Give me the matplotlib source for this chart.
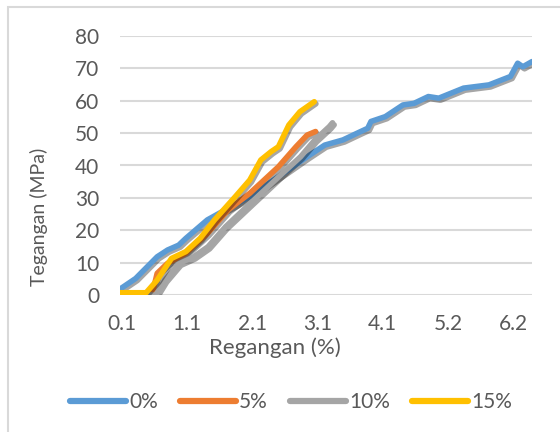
import matplotlib.pyplot as plt
import matplotlib.patheffects as pe
from matplotlib.patches import Rectangle

# data (strain %, stress MPa)
x_0 = [0.09, 0.31, 0.64, 0.80, 0.97, 1.08, 1.41, 1.75, 2.06, 2.39, 2.94, 3.21, 3.49,
       3.71, 3.87, 3.92, 4.14, 4.41, 4.58, 4.80, 4.96, 5.34, 5.73, 6.06, 6.17, 6.25, 6.39]
y_0 = [2.1, 5.1, 11.8, 13.9, 15.4, 17.5, 23.2, 27.0, 30.4, 35.0, 42.7, 46.3, 47.9,
       50.0, 51.5, 53.6, 55.1, 58.7, 59.2, 61.3, 60.8, 63.9, 64.9, 67.5, 71.6, 70.5, 72.1]

x_5 = [0.07, 0.56, 0.64, 0.80, 1.08, 1.41, 1.73, 2.06, 2.50, 2.77, 2.94, 3.07]
y_5 = [0.0, 0.0, 6.7, 9.8, 12.9, 19.0, 26.3, 31.4, 39.6, 45.8, 49.4, 50.5]

x_10 = [0.07, 0.62, 0.76, 0.98, 1.20, 1.42, 1.69, 2.07, 2.51, 2.84, 3.06, 3.28, 3.33]
y_10 = [0.0, 0.0, 4.6, 9.8, 11.8, 14.9, 21.1, 28.3, 36.6, 42.7, 47.9, 52.0, 53.2]

x_15 = [0.07, 0.47, 0.64, 0.86, 1.08, 1.30, 1.52, 1.84, 2.06, 2.23, 2.39, 2.50,
        2.66, 2.83, 3.05]
y_15 = [0.7, 0.7, 4.6, 11.3, 13.4, 17.5, 23.2, 30.4, 35.5, 41.7, 44.3, 45.8,
        52.5, 56.6, 59.7]

labels = ["0%", "5%", "10%", "15%"]
colors = ["#5B9BD5", "#ED7D31", "#A5A5A5", "#FFC000"]

xticks = [0.1, 1.1, 2.1, 3.1, 4.1, 5.1, 6.1]
xtick_labels = ["0.1", "1.1", "2.1", "3.1", "4.1", "5.2", "6.2"]

plt.rcParams["font.family"] = ["Lato", "DejaVu Sans"]

fig = plt.figure(figsize=(5.6, 4.32), dpi=100)
ax = fig.add_axes([120 / 560, 1 - 295 / 432, 412 / 560, 259 / 432])

shadow = [pe.SimpleLineShadow(offset=(1.2, -1.5), shadow_color="black", alpha=0.35),
          pe.Normal()]
series = [(x_0, y_0), (x_5, y_5), (x_10, y_10), (x_15, y_15)]
for (xs, ys), lab, c in zip(series, labels, colors):
    ax.plot(xs, ys, color=c, lw=4, label=lab, solid_capstyle="round",
            solid_joinstyle="round", path_effects=shadow)

ax.set_xlim(0.07, 6.39)
ax.set_ylim(0, 80)
ax.set_yticks(range(0, 81, 10))
ax.set_xticks(xticks)
ax.set_xticklabels(xtick_labels)
ax.grid(axis="y", color="#D9D9D9", lw=1.5)
ax.set_axisbelow(True)
for s in ax.spines.values():
    s.set_visible(False)
ax.tick_params(length=0, labelsize=15, labelcolor="#595959")
ax.tick_params(axis="y", pad=15)
ax.tick_params(axis="x", pad=14)

fig.text(275 / 560, 1 - 348 / 432, "Regangan (%)", ha="center", va="center",
         fontsize=16, color="#595959")
fig.text(39 / 560, 1 - 217 / 432, "Tegangan (MPa)", ha="center", va="center",
         rotation=90, fontsize=14, color="#595959")

handles = [plt.Line2D([], [], color=c, lw=4.5, solid_capstyle="round") for c in colors]
fig.legend(handles, labels, loc="center", bbox_to_anchor=(291 / 560, 1 - 402 / 432),
           ncol=4, frameon=False, fontsize=15, labelcolor="#595959",
           handlelength=2.7, handletextpad=0.15, columnspacing=1.05)

fig.patches.append(Rectangle((8 / 560, -0.1), 1.2, 1.1 - 7 / 432, transform=fig.transFigure,
                             fill=False, edgecolor="#D9D9D9", lw=1.5))

plt.savefig("out.png", dpi=100)
